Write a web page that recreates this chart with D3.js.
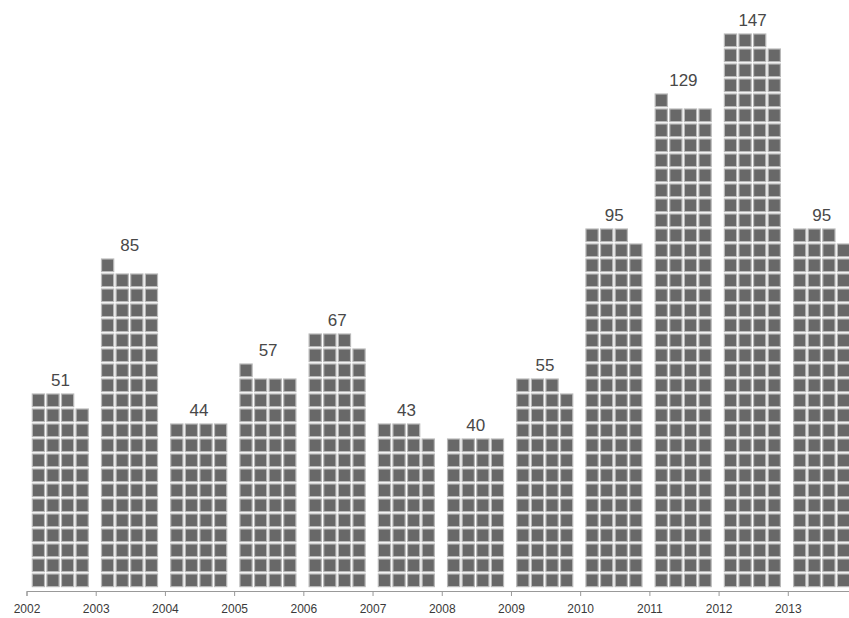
<!DOCTYPE html>
<html>
<head>
<meta charset="utf-8">
<script src="https://cdn.jsdelivr.net/npm/d3@7"></script>
<style>
  html, body { margin: 0; padding: 0; background: #fff; overflow: hidden; }
  svg { display: block; }
</style>
</head>
<body>
<svg id="chart" width="849" height="618"></svg>
<script>
const years = [2002, 2003, 2004, 2005, 2006, 2007, 2008, 2009, 2010, 2011, 2012, 2013];
const values = [51, 85, 44, 57, 67, 43, 40, 55, 95, 129, 147, 95];
const tickYears = [2002, 2003, 2004, 2005, 2006, 2007, 2008, 2009, 2010, 2011, 2012, 2013];
const perRow = 4;

const svg = d3.select("#chart");
const x = d3.scaleLinear().domain([2002, 2014]).range([26.5, 857]);
const maxRows = 37;
const y = d3.scaleLinear().domain([0, maxRows]).range([588, 33]);
const rowH = y(0) - y(1);
const colW = 14.6;
const barOffset = 4.8;

const cells = [];
years.forEach((yr, i) => {
  for (let k = 0; k < values[i]; k++) {
    cells.push({ year: yr, row: Math.floor(k / perRow), col: k % perRow });
  }
});

svg.append("g").selectAll("rect").data(cells).join("rect")
  .attr("x", d => x(d.year) + barOffset + d.col * colW + 1)
  .attr("y", d => y(d.row + 1) + 1)
  .attr("width", colW - 2.4)
  .attr("height", rowH - 2.4)
  .attr("fill", "#686868")
  .attr("stroke", "#b8b8b8")
  .attr("stroke-width", 1.2);

svg.append("g").selectAll("text").data(years).join("text")
  .attr("x", (d) => x(d) + barOffset + colW * perRow / 2)
  .attr("y", (d, i) => y(Math.ceil(values[i] / perRow)) - 7)
  .attr("text-anchor", "middle")
  .attr("font-family", "Liberation Sans, Arial, sans-serif")
  .attr("font-size", 17)
  .attr("fill", "#484848")
  .text((d, i) => values[i]);

const axis = d3.axisBottom(x)
  .tickValues(tickYears)
  .tickFormat(d3.format("d"))
  .tickSize(5)
  .tickSizeOuter(5);

const gx = svg.append("g")
  .attr("transform", "translate(0,591)")
  .call(axis);
gx.select(".domain").attr("stroke", "#999");
gx.selectAll(".tick line").attr("stroke", "#999");
gx.selectAll(".tick text")
  .attr("font-family", "Liberation Sans, Arial, sans-serif")
  .attr("font-size", 12)
  .attr("fill", "#3a3a3a")
  .attr("dy", "1.2em");
</script>
</body>
</html>
